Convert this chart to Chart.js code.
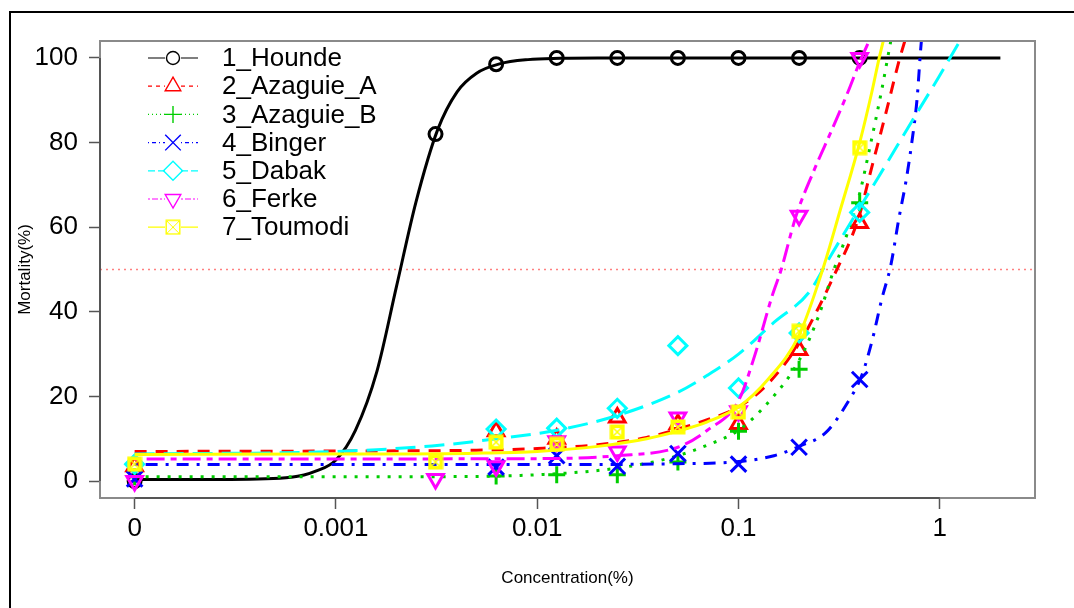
<!DOCTYPE html>
<html>
<head>
<meta charset="utf-8">
<title>Mortality vs concentration</title>
<script src="https://cdn.jsdelivr.net/npm/chart.js@4.4.1/dist/chart.umd.min.js"></script>
<style>
  html, body { margin: 0; padding: 0; background: #fff; overflow: hidden; }
</style>
</head>
<body>
<canvas id="doseChart" width="1074" height="608"></canvas>
<script>
// ---- data ----
const seriesNames = ['1_Hounde', '2_Azaguie_A', '3_Azaguie_B', '4_Binger', '5_Dabak', '6_Ferke', '7_Toumodi'];
const doses = [0, 0.003125, 0.00625, 0.0125, 0.025, 0.05, 0.1, 0.2, 0.4];

// observed mortality (%) at each dose, null where nothing is plotted
const houndeObs   = [0, 82, 98.5, 100, 100, 100, 100, 100, 100];
const azaguieAObs = [3.5, null, 11.8, 10, 15, 13.5, 13.5, 31, 61];
const azaguieBObs = [1, null, 1.2, 1.5, 1.5, 4.5, 11.8, 26.4, 65.8];
const bingerObs   = [0.5, null, 3.3, 6, 3.5, 6.5, 4, 8, 24];
const dabakObs    = [4, null, 12.3, 12.5, 17.2, 32, 22, 35, 63.5];
const ferkeObs    = [0, 0.5, 3.5, 9.4, 7, 15, 16.5, 62.7, 100];
const toumodiObs  = [4, 4.5, 9.2, 8.7, 11.6, 12.8, 16.3, 35.4, 78.8];

// fitted curves (dose, mortality %)
const houndeFitX   = [0, 0.0003, 0.0006, 0.0008, 0.001, 0.00125, 0.0016, 0.002, 0.0025, 0.0032, 0.004, 0.005, 0.0065, 0.009, 0.013, 0.02, 0.05, 0.2, 2];
const houndeFitY   = [0.4, 0.4, 0.9, 2.4, 5, 12, 26, 46, 66, 83, 92, 96.4, 98.6, 99.6, 99.9, 100, 100, 100, 100];
const azaguieAFitX = [0, 0.001, 0.005, 0.01, 0.02, 0.035, 0.05, 0.07, 0.1, 0.14, 0.2, 0.25, 0.308, 0.36, 0.4, 0.447, 0.54, 0.625, 0.7];
const azaguieAFitY = [7.0, 7.1, 7.3, 7.7, 8.6, 10.3, 12.3, 14.5, 17.5, 23, 32.5, 41, 50, 57, 63, 72, 87, 99, 107];
const azaguieBFitX = [0, 0.001, 0.005, 0.01, 0.02, 0.035, 0.05, 0.07, 0.1, 0.14, 0.2, 0.25, 0.298, 0.35, 0.4, 0.45, 0.515, 0.571, 0.6];
const azaguieBFitY = [1.0, 1.0, 1.1, 1.5, 2.5, 4.2, 6, 8.5, 12, 18.5, 28.5, 39, 50, 59, 68, 79, 92.5, 104, 109];
const bingerFitX   = [0, 0.01, 0.05, 0.1, 0.15, 0.2, 0.272, 0.353, 0.41, 0.46, 0.515, 0.571, 0.626, 0.68, 0.726, 0.77, 0.81, 0.85];
const bingerFitY   = [3.9, 3.9, 4.1, 4.6, 6, 8.2, 11.5, 19, 25, 33, 43, 51, 62, 71, 80, 90, 104, 112];
const dabakFitX    = [0, 0.001, 0.003, 0.0063, 0.0125, 0.025, 0.05, 0.07, 0.1, 0.15, 0.224, 0.281, 0.366, 0.498, 0.726, 0.989, 1.24, 1.4];
const dabakFitY    = [6.4, 7.0, 8.3, 10, 12, 15.5, 21, 25, 30, 37.5, 44.6, 52.5, 61.6, 72, 85, 95.5, 103.5, 108];
const ferkeFitX    = [0, 0.01, 0.025, 0.05, 0.07, 0.1, 0.121, 0.1466, 0.163, 0.1927, 0.24, 0.291, 0.35, 0.4, 0.445, 0.48];
const ferkeFitY    = [5.2, 5.3, 6, 8, 12, 19, 30, 43.6, 50, 62.5, 74, 83, 92, 99, 104, 108];
const toumodiFitX  = [0, 0.001, 0.005, 0.01, 0.02, 0.035, 0.05, 0.07, 0.1, 0.14, 0.2, 0.262, 0.32, 0.4, 0.46, 0.5, 0.55];
const toumodiFitY  = [6.3, 6.4, 6.6, 7.0, 8.2, 10, 11.8, 14, 17.5, 24, 34.5, 50, 64, 80, 92, 100, 108];

const refLevel = 50; // dotted LC50 reference line

const xTickValues = [0.0001, 0.001, 0.01, 0.1, 1];
const xTickLabels = ['0', '0.001', '0.01', '0.1', '1'];
const yTickValues = [0, 20, 40, 60, 80, 100];

// ---- styling ----
const ZERO_AT = 1e-4;          // the 0 dose is drawn one decade left of 0.001
const X_MIN = Math.pow(10, -4.172);
const X_MAX = Math.pow(10, 0.473);
const FONT = '"Liberation Sans", Arial, Helvetica, sans-serif';

const seriesColors = ['#000000', '#FF0000', '#00CD00', '#0000FF', '#00FFFF', '#FF00FF', '#FFFF00'];
const seriesDash   = [[], [12, 9], [3, 8], [3, 8, 12, 8], [20, 9], [6, 6, 18, 6], []];
const legendDash   = [[], [4, 4], [1, 3], [1, 3, 4, 3], [7, 3], [2, 2, 6, 2], []];

// square with a cross inside (R pch 7)
function boxCross(size, lw, crossLw) {
  const c = document.createElement('canvas');
  c.width = size; c.height = size;
  const g = c.getContext('2d');
  g.strokeStyle = '#FFFF00';
  g.lineWidth = lw;
  const p = lw / 2 + 0.5;
  g.strokeRect(p, p, size - 2 * p, size - 2 * p);
  g.lineWidth = crossLw;
  g.beginPath();
  g.moveTo(p, p); g.lineTo(size - p, size - p);
  g.moveTo(size - p, p); g.lineTo(p, size - p);
  g.stroke();
  return c;
}

const markerStyles = [
  { pointStyle: 'circle', radius: 6.5, rotation: 0 },
  { pointStyle: 'triangle', radius: 9, rotation: 0 },
  { pointStyle: 'cross', radius: 8.5, rotation: 0 },
  { pointStyle: 'crossRot', radius: 11, rotation: 0 },
  { pointStyle: 'rectRot', radius: 9, rotation: 0 },
  { pointStyle: 'triangle', radius: 9, rotation: 180 },
  { pointStyle: boxCross(16, 3.6, 1.6), radius: 8, rotation: 0 }
];
const legendMarkers = [
  { pointStyle: 'circle', radius: 6.5, rotation: 0 },
  { pointStyle: 'triangle', radius: 9, rotation: 0 },
  { pointStyle: 'cross', radius: 8.5, rotation: 0 },
  { pointStyle: 'crossRot', radius: 11, rotation: 0 },
  { pointStyle: 'rectRot', radius: 9.5, rotation: 0 },
  { pointStyle: 'triangle', radius: 9, rotation: 180 },
  { pointStyle: boxCross(16, 1.4, 1), radius: 8, rotation: 0 }
];

const xp = c => (c === 0 ? ZERO_AT : c);
const toPoints = (xs, ys) => xs.map((c, i) => ({ x: xp(c), y: ys[i] })).filter(p => p.y !== null);

const observed = [houndeObs, azaguieAObs, azaguieBObs, bingerObs, dabakObs, ferkeObs, toumodiObs];
const fitsX = [houndeFitX, azaguieAFitX, azaguieBFitX, bingerFitX, dabakFitX, ferkeFitX, toumodiFitX];
const fitsY = [houndeFitY, azaguieAFitY, azaguieBFitY, bingerFitY, dabakFitY, ferkeFitY, toumodiFitY];

const datasets = [];
seriesNames.forEach((name, i) => {
  // later series sit on top, as in the R plot
  datasets.push({
    label: name + ' fit',
    data: toPoints(fitsX[i], fitsY[i]),
    showLine: true,
    borderColor: seriesColors[i],
    borderWidth: 3,
    borderDash: seriesDash[i],
    borderCapStyle: 'butt',
    cubicInterpolationMode: 'monotone',
    pointRadius: 0,
    clip: 0,
    order: 100 - 2 * i
  });
  datasets.push({
    label: name,
    data: toPoints(doses, observed[i]),
    showLine: false,
    borderColor: seriesColors[i],
    backgroundColor: 'rgba(0,0,0,0)',
    pointStyle: markerStyles[i].pointStyle,
    pointRadius: markerStyles[i].radius,
    pointRotation: markerStyles[i].rotation,
    pointBorderWidth: 3,
    clip: false,
    order: 101 - 2 * i
  });
});
datasets.push({
  label: 'ref',
  data: [{ x: X_MIN, y: refLevel }, { x: X_MAX, y: refLevel }],
  showLine: true,
  borderColor: '#FF8080',
  borderWidth: 1.3,
  borderDash: [2, 4],
  pointRadius: 0,
  order: 200
});

// box, outer frame and R-style legend
const rDecor = {
  id: 'rDecor',
  afterDraw(chart) {
    const { ctx, chartArea: a } = chart;
    const xs = chart.scales.x, ys = chart.scales.y;
    ctx.save();
    // outer figure frame
    ctx.fillStyle = '#000';
    ctx.fillRect(9, 11, 2, 620);
    ctx.fillRect(9, 11, 1100, 2);
    // plot box
    ctx.strokeStyle = '#8a8a8a';
    ctx.lineWidth = 2;
    ctx.strokeRect(a.left, a.top, a.right - a.left, a.bottom - a.top);
    // axis lines between the first and last tick
    ctx.strokeStyle = '#555';
    ctx.beginPath();
    ctx.moveTo(xs.getPixelForValue(xTickValues[0]), a.bottom);
    ctx.lineTo(xs.getPixelForValue(xTickValues[xTickValues.length - 1]), a.bottom);
    ctx.moveTo(a.left, ys.getPixelForValue(yTickValues[0]));
    ctx.lineTo(a.left, ys.getPixelForValue(yTickValues[yTickValues.length - 1]));
    ctx.stroke();

    // legend
    const lx = a.left + 48, ly = a.top + 17, step = 28.2;
    ctx.font = '26px ' + FONT;
    ctx.textBaseline = 'middle';
    ctx.textAlign = 'left';
    seriesNames.forEach((name, i) => {
      const y = ly + i * step;
      ctx.strokeStyle = seriesColors[i];
      ctx.lineWidth = 1.2;
      ctx.setLineDash(legendDash[i]);
      ctx.beginPath();
      ctx.moveTo(lx, y); ctx.lineTo(lx + 17, y);
      ctx.moveTo(lx + 33, y); ctx.lineTo(lx + 50, y);
      ctx.stroke();
      ctx.setLineDash([]);
      ctx.lineWidth = 1.4;
      ctx.fillStyle = 'rgba(0,0,0,0)';
      Chart.helpers.drawPoint(ctx, {
        pointStyle: legendMarkers[i].pointStyle,
        radius: legendMarkers[i].radius,
        rotation: legendMarkers[i].rotation,
        borderWidth: 1.4
      }, lx + 25, y);
      ctx.fillStyle = '#000';
      ctx.fillText(name, lx + 74, y + 1);
    });
    ctx.restore();
  }
};

new Chart(document.getElementById('doseChart').getContext('2d'), {
  type: 'scatter',
  data: { datasets: datasets },
  plugins: [rDecor],
  options: {
    responsive: false,
    animation: false,
    events: [],
    layout: { padding: { left: 0, top: 41, right: 39, bottom: 0 } },
    plugins: { legend: { display: false }, tooltip: { enabled: false } },
    scales: {
      x: {
        type: 'logarithmic',
        min: X_MIN,
        max: X_MAX,
        afterBuildTicks: s => { s.ticks = xTickValues.map(v => ({ value: v })); },
        afterFit: s => { s.height = 110; },
        ticks: {
          autoSkip: false,
          maxRotation: 0,
          padding: 4,
          color: '#000',
          font: { family: FONT, size: 26 },
          callback: (v, idx) => xTickLabels[idx]
        },
        grid: { drawOnChartArea: false, drawTicks: true, tickLength: 11, tickWidth: 1.5, tickColor: '#555' },
        border: { display: false },
        title: {
          display: true,
          text: 'Concentration(%)',
          color: '#000',
          font: { family: FONT, size: 17 },
          padding: { top: 0, bottom: 19 }
        }
      },
      y: {
        type: 'linear',
        min: -4,
        max: 104,
        afterBuildTicks: s => { s.ticks = yTickValues.map(v => ({ value: v })); },
        afterFit: s => { s.width = 100; },
        ticks: {
          padding: 11,
          color: '#000',
          font: { family: FONT, size: 26 }
        },
        grid: { drawOnChartArea: false, drawTicks: true, tickLength: 11, tickWidth: 1.5, tickColor: '#555' },
        border: { display: false },
        title: {
          display: true,
          text: 'Mortality(%)',
          color: '#000',
          font: { family: FONT, size: 17 },
          padding: { top: 15, bottom: 0 }
        }
      }
    }
  }
});
</script>
</body>
</html>
